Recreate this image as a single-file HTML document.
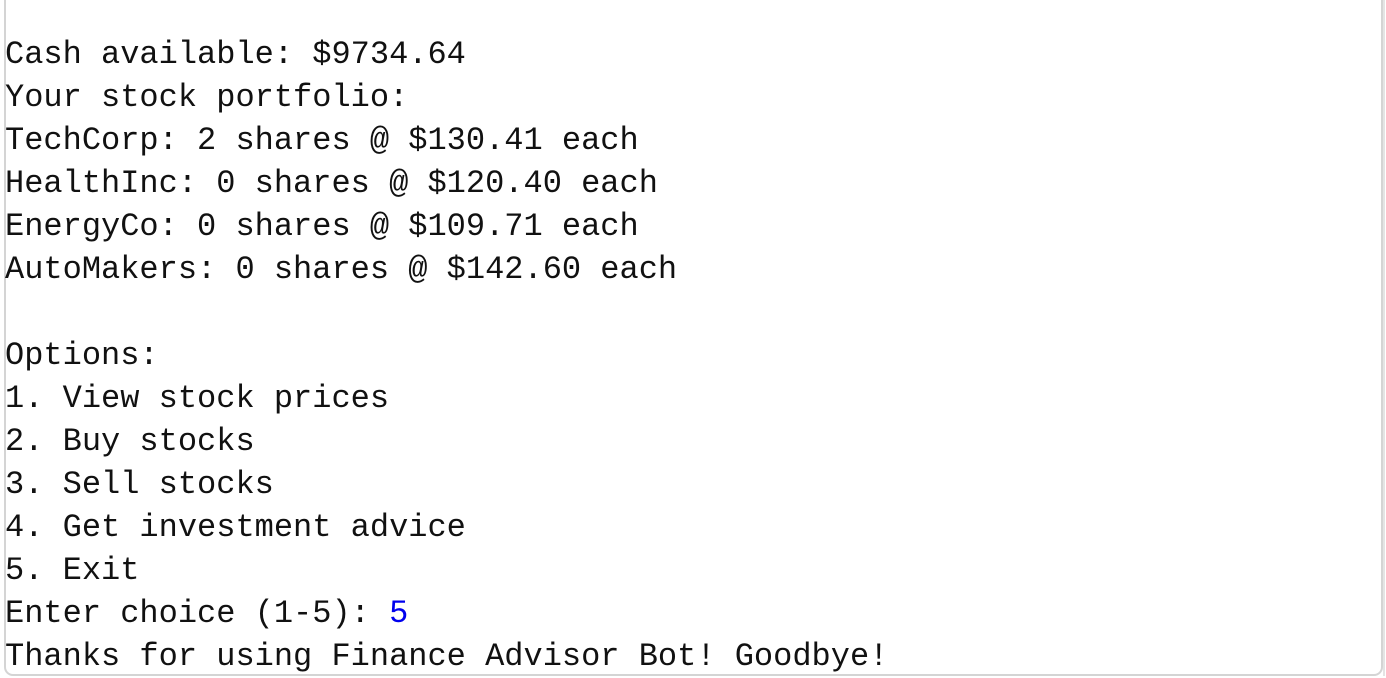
<!DOCTYPE html>
<html><head><meta charset="utf-8"><style>
html,body{margin:0;padding:0;background:#fff;width:1386px;height:676px;overflow:hidden;}
#box{position:absolute;left:4px;top:-10px;width:1375px;height:682px;border:2px solid #d4d4d4;border-radius:0 0 9px 9px;box-sizing:content-box;}
#edge{position:absolute;left:1383px;top:0;width:2px;height:676px;background:#e4e4e4;}
#term{position:absolute;left:5px;top:33px;margin:0;font-family:"Liberation Mono",monospace;font-size:32px;line-height:43px;color:#111;white-space:pre;}
.in{color:#0000ee;}
</style></head><body>
<div id="box"></div>
<div id="edge"></div>
<pre id="term">Cash available: $9734.64
Your stock portfolio:
TechCorp: 2 shares @ $130.41 each
HealthInc: 0 shares @ $120.40 each
EnergyCo: 0 shares @ $109.71 each
AutoMakers: 0 shares @ $142.60 each

Options:
1. View stock prices
2. Buy stocks
3. Sell stocks
4. Get investment advice
5. Exit
Enter choice (1-5): <span class="in">5</span>
Thanks for using Finance Advisor Bot! Goodbye!</pre>
</body></html>
